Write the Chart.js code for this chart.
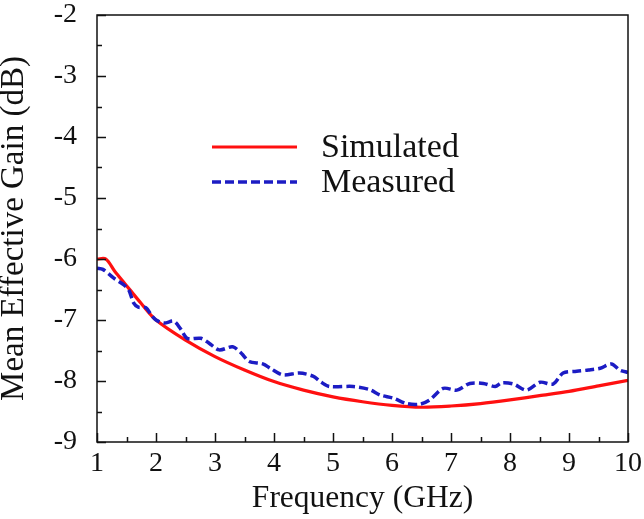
<!DOCTYPE html>
<html lang="en">
<head>
  <meta charset="UTF-8">
  <title>Mean effective gain vs frequency</title>
  <script src="https://cdn.jsdelivr.net/npm/chart.js"></script>
  <style>
    html, body { margin: 0; padding: 0; background: #fff; }
    #wrap { width: 644px; height: 519px; }
  </style>
</head>
<body>
<div id="wrap"><canvas id="gainChart" width="644" height="519"></canvas></div>
<script>
// values
const simFreq = [1.0, 1.15, 1.3, 1.47, 1.75, 2.0, 2.5, 3.0, 3.5, 4.0, 4.5, 5.0, 5.5, 6.0, 6.5, 7.0, 7.5, 8.0, 8.5, 9.0, 9.5, 10.0];
const simGain = [-6.0, -6.0, -6.2, -6.4, -6.73, -7.0, -7.33, -7.6, -7.82, -8.01, -8.15, -8.26, -8.34, -8.40, -8.43, -8.41, -8.37, -8.31, -8.24, -8.17, -8.08, -7.99];

const measFreq = [1.0, 1.1, 1.28, 1.45, 1.54, 1.62, 1.7, 1.83, 1.92, 2.0, 2.14, 2.3, 2.42, 2.53, 2.76, 2.9, 3.07, 3.3, 3.45, 3.58, 3.81, 3.95, 4.15, 4.43, 4.66, 4.8, 4.94, 5.34, 5.62, 5.8, 6.02, 6.25, 6.47, 6.64, 6.87, 7.1, 7.32, 7.55, 7.75, 7.86, 8.06, 8.28, 8.51, 8.73, 8.9, 9.13, 9.33, 9.53, 9.72, 9.86, 10.0];
const measGain = [-6.15, -6.17, -6.31, -6.42, -6.51, -6.72, -6.79, -6.8, -6.92, -7.0, -7.05, -7.02, -7.15, -7.3, -7.3, -7.38, -7.49, -7.44, -7.55, -7.68, -7.72, -7.8, -7.9, -7.87, -7.92, -8.02, -8.09, -8.09, -8.14, -8.23, -8.28, -8.37, -8.38, -8.31, -8.12, -8.15, -8.04, -8.04, -8.09, -8.03, -8.05, -8.15, -8.02, -8.05, -7.87, -7.84, -7.82, -7.79, -7.72, -7.82, -7.86];

const seriesNames = ['Simulated', 'Measured'];
const xMin = 1, xMax = 10, yMin = -9, yMax = -2;

const serif = '"Liberation Serif", "Times New Roman", serif';
const toPts = (xs, ys) => xs.map((x, i) => ({x, y: ys[i]}));

// frame, inward ticks (major + minor) and the in-plot legend
const decorations = {
  id: 'decorations',
  afterDraw(chart) {
    const {ctx, chartArea: a, scales: {x, y}} = chart;
    ctx.save();
    ctx.strokeStyle = '#111';
    ctx.lineWidth = 1.5;
    ctx.strokeRect(a.left, a.top, a.right - a.left, a.bottom - a.top);

    ctx.beginPath();
    for (let v = xMin; v <= xMax; v += 0.5) {
      const px = Math.round(x.getPixelForValue(v)) + 0.5;
      const len = Number.isInteger(v) ? 9 : 5;
      ctx.moveTo(px, a.bottom); ctx.lineTo(px, a.bottom - len);
    }
    for (let v = yMin; v <= yMax; v += 0.5) {
      const py = Math.round(y.getPixelForValue(v)) + 0.5;
      const len = Number.isInteger(v) ? 9 : 5;
      ctx.moveTo(a.left, py); ctx.lineTo(a.left + len, py);
    }
    ctx.stroke();

    // legend
    const rows = [{y: 147}, {y: 182}];
    chart.data.datasets.forEach((ds, i) => {
      ctx.beginPath();
      ctx.strokeStyle = ds.borderColor;
      ctx.lineWidth = ds.borderWidth;
      ctx.setLineDash(ds.borderDash || []);
      ctx.moveTo(212, rows[i].y); ctx.lineTo(297, rows[i].y);
      ctx.stroke();
      ctx.setLineDash([]);
      ctx.fillStyle = '#111';
      ctx.font = '34px ' + serif;
      ctx.textBaseline = 'alphabetic';
      ctx.fillText(ds.label, 321, rows[i].y + 10);
    });
    ctx.restore();
  }
};

new Chart(document.getElementById('gainChart'), {
  type: 'scatter',
  data: {
    datasets: [
      {
        label: seriesNames[0], data: toPts(simFreq, simGain), showLine: true,
        borderColor: '#ff1010', borderWidth: 3.2, pointRadius: 0, tension: 0.3, order: 2
      },
      {
        label: seriesNames[1], data: toPts(measFreq, measGain), showLine: true,
        borderColor: '#1c1cc4', borderWidth: 3.5, borderDash: [9, 4], pointRadius: 0, tension: 0.3, order: 1
      }
    ]
  },
  options: {
    responsive: false,
    animation: false,
    layout: {padding: {left: 0, right: 16, top: 15, bottom: 0}},
    plugins: {legend: {display: false}, tooltip: {enabled: false}},
    scales: {
      x: {
        type: 'linear', min: xMin, max: xMax,
        grid: {display: false, drawTicks: false},
        border: {display: false},
        ticks: {stepSize: 1, padding: 5, color: '#111', font: {family: serif, size: 28}},
        title: {display: true, text: 'Frequency (GHz)', color: '#111', font: {family: serif, size: 31.5}, padding: {top: 0, bottom: 1}},
        afterFit(s) { s.height = 77; s.paddingLeft = 0; s.paddingRight = 0; }
      },
      y: {
        type: 'linear', min: yMin, max: yMax,
        grid: {display: false, drawTicks: false},
        border: {display: false},
        ticks: {stepSize: 1, padding: 20, color: '#111', font: {family: serif, size: 28}},
        title: {display: true, text: 'Mean Effective Gain (dB)', color: '#111', font: {family: serif, size: 33, lineHeight: 0.875}, padding: {top: 0, bottom: 0}},
        afterFit(s) { s.width = 97; s.paddingTop = 0; s.paddingBottom = 0; }
      }
    }
  },
  plugins: [decorations]
});
</script>
</body>
</html>
